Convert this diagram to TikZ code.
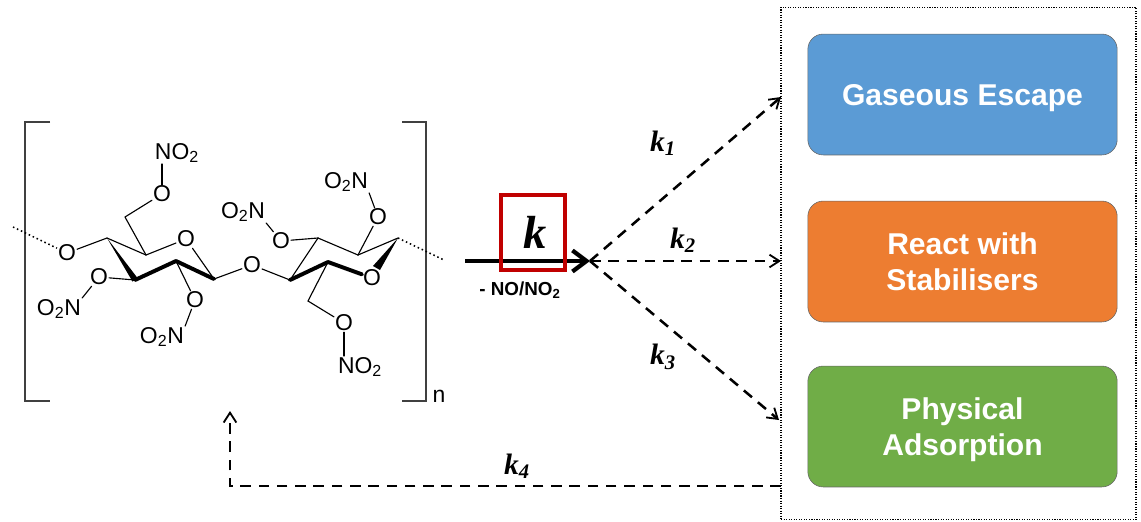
\documentclass[tikz,border=0pt]{standalone}
\usepackage{fontspec}
\setmainfont{Liberation Sans}
\newfontfamily\ratefont{Liberation Serif}
\usetikzlibrary{arrows.meta,calc}
\definecolor{boxblue}{HTML}{5B9BD5}
\definecolor{boxorange}{HTML}{ED7D31}
\definecolor{boxgreen}{HTML}{70AD47}
\definecolor{boxred}{HTML}{C00000}
\tikzset{
  atom/.style={inner sep=0.6pt,font=\fontsize{16.3}{16.3}\selectfont},
  bond/.style={line width=0.8pt,line cap=round},
  backbond/.style={line width=2.8pt,line cap=round},
  chain/.style={line width=1.1pt,dotted},
  bracket/.style={line width=1pt,draw=black!75},
  rate/.style={inner sep=0pt,font=\ratefont\fontsize{21}{21}\selectfont\bfseries\itshape},
  route/.style={line width=1.8pt,dash pattern=on 7.5pt off 5.5pt,-{Straight Barb[length=7pt,width=9pt,line width=1.3pt]}},
  outcome/.style={draw=black!60,line width=0.4pt,rounded corners=11pt,minimum width=220pt,minimum height=86pt,
    text=white,text depth=0pt,align=center,font=\fontsize{21.4}{25.6}\selectfont\bfseries},
}
\begin{document}
\begin{tikzpicture}[x=0.025cm,y=-0.025cm]
\useasboundingbox (0,0) rectangle (1141,521);
% brackets
\draw[bracket] (50,122) -- (25,122) -- (25,401) -- (50,401);
\draw[bracket] (402,122) -- (426,122) -- (426,401) -- (402,401);
\node[atom] (repeat) at (439,396) {n};

% left ring
\coordinate (chainL) at (13,227);
\coordinate (a1) at (107,238);
\coordinate (a2) at (135,280);
\coordinate (a3) at (176,261);
\coordinate (a4) at (214,279);
\coordinate (a5) at (146,255);
\coordinate (a6) at (125,217);
\node[atom] (oL) at (67,253) {O};
\node[atom] (oRingA) at (186,239) {O};
\node[atom] (oA6) at (162,194) {O};
\node[atom] (nA6) at (177,153) {NO\textsubscript{2}};
\node[atom] (oA2) at (99,277) {O};
\node[atom] (nA2) at (59,309) {O\textsubscript{2}N};
\node[atom] (oA3) at (195,300) {O};
\node[atom] (nA3) at (162,337) {O\textsubscript{2}N};

% right ring
\coordinate (b1) at (290,280);
\coordinate (b2) at (328,262);
\coordinate (b3) at (318,238);
\coordinate (b4) at (358,255);
\coordinate (b5) at (398,238);
\coordinate (b6) at (308,301);
\coordinate (chainR) at (444,260);
\node[atom] (oBridge) at (252,265) {O};
\node[atom] (oRingB) at (372,278) {O};
\node[atom] (oB6) at (344,323) {O};
\node[atom] (nB6) at (360,367) {NO\textsubscript{2}};
\node[atom] (oB3) at (281,241) {O};
\node[atom] (nB3) at (243,212) {O\textsubscript{2}N};
\node[atom] (oB4) at (378,217) {O};
\node[atom] (nB4) at (346,182) {O\textsubscript{2}N};

\draw[chain] (chainL) -- (oL);
\draw[chain] (b5) -- (chainR);

\draw[bond] (oL) -- (a1);
\draw[bond] (a1) -- (a5);
\draw[bond] (a5) -- (oRingA);
\draw[bond] (oRingA) -- (a4);
\draw[bond] (a5) -- (a6);
\draw[bond] (a6) -- (oA6);
\draw[bond] (oA6) -- (oA6 |- nA6.south);
\draw[bond] (a2) -- (oA2);
\draw[bond] (oA2) -- (nA2.north east);
\draw[bond] (a3) -- (oA3);
\draw[bond] (oA3) -- (nA3.north east);
\draw[bond] (a4) -- (oBridge);
\draw[bond] (oBridge) -- (b1);
\draw[bond] (b1) -- (b3);
\draw[bond] (b3) -- (b4);
\draw[bond] (b4) -- (b5);
\draw[bond] (b3) -- (oB3);
\draw[bond] (oB3) -- (nB3.south east);
\draw[bond] (b4) -- (oB4);
\draw[bond] (oB4) -- (nB4.south east);
\draw[bond] (b2) -- (b6);
\draw[bond] (b6) -- (oB6);
\draw[bond] (oB6) -- (oB6 |- nB6.north);

\draw[backbond] (a2) -- (a3);
\draw[backbond] (a3) -- (a4);
\draw[backbond] (b1) -- (b2);
\draw[backbond] (b2) -- (oRingB);
\fill (a1) -- ($(a2)+(2.5,-2)$) -- ($(a2)+(-2.5,1.5)$) -- cycle;
\fill (b5) -- ($(oRingB)+(8,-8)$) -- ($(oRingB)+(1,-12)$) -- cycle;

% rate box and main arrow
\node[rate,font=\ratefont\fontsize{33}{33}\selectfont\bfseries\itshape] (kMain) at (535,232) {k};
\coordinate (start) at (465,261);
\coordinate (branch) at (590,261);
\draw[line width=3pt,-{Straight Barb[length=10pt,width=15pt,line width=3pt]}] (start) -- (branch);
\node[draw=boxred,line width=3pt,minimum width=45pt,minimum height=53pt,inner sep=0pt] (kBox) at (533,232.5) {};
\node[inner sep=0pt,font=\fontsize{13.4}{13.4}\selectfont\bfseries] (loss) at (520,290) {- NO/NO\textsubscript{2}};

% outcomes
\node[draw,densely dotted,line width=0.8pt,minimum width=252.4pt,minimum height=364.7pt,inner sep=0pt] (panel) at (958.5,263.5) {};
\node[outcome,fill=boxblue] (escape) at (962.5,94.5) {Gaseous Escape};
\node[outcome,fill=boxorange] (react) at (962.5,261.5) {React with\\Stabilisers};
\node[outcome,fill=boxgreen] (adsorb) at (962.5,426.5) {Physical\\Adsorption};

\coordinate (endA) at (781,97);
\coordinate (endB) at (781,261);
\coordinate (endC) at (779,420);
\coordinate (returnA) at (781,486);
\coordinate (returnB) at (230,486);
\coordinate (returnC) at (230,411);
\draw[route] (branch) -- (endA);
\draw[route] (branch) -- (endB);
\draw[route] (branch) -- (endC);
\draw[route] (returnA) -- (returnB) -- (returnC);

\node[rate] (k1) at (663,143) {k\textsubscript{1}};
\node[rate] (k2) at (683,240) {k\textsubscript{2}};
\node[rate] (k3) at (663,357) {k\textsubscript{3}};
\node[rate] (k4) at (517,466) {k\textsubscript{4}};
\end{tikzpicture}
\end{document}
